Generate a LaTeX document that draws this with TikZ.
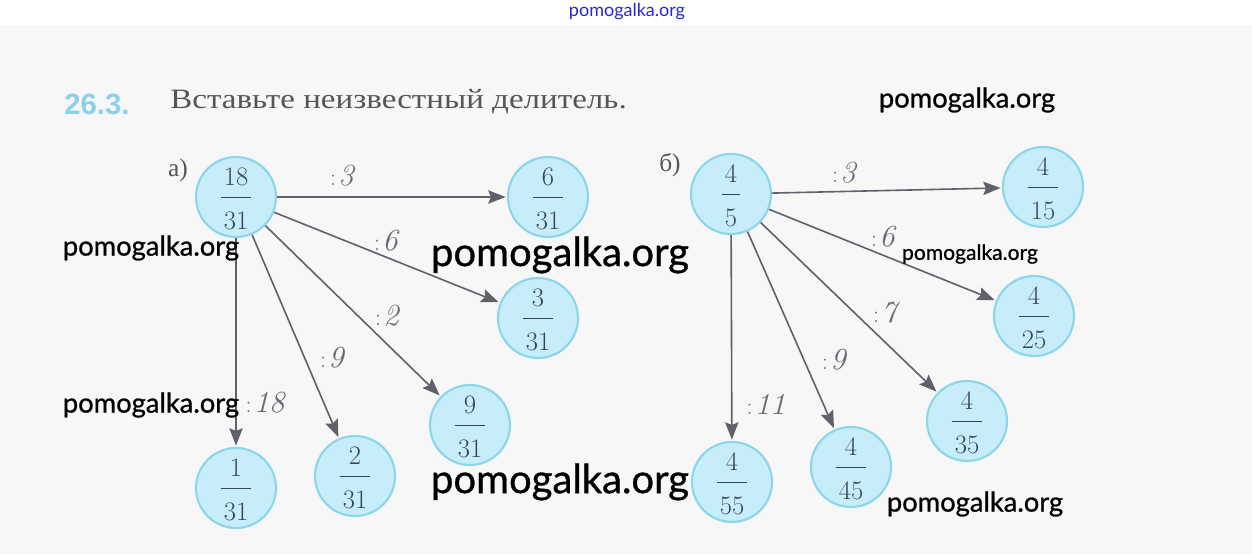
\documentclass[tikz,border=0pt]{standalone}
\usepackage{fontspec}
\usetikzlibrary{arrows.meta}
\newfontfamily\serf{Liberation Serif}
\newfontfamily\wmfont[FakeBold=0.8]{Lato}
\newfontfamily\wmthin{Lato}
\newfontfamily\numfont{Liberation Sans}
\definecolor{bggray}{RGB}{247,247,247}
\definecolor{circfill}{RGB}{198,237,249}
\definecolor{circdraw}{RGB}{140,214,236}
\definecolor{fractext}{RGB}{56,70,82}
\definecolor{arrowgray}{RGB}{96,96,106}
\definecolor{titleblue}{RGB}{140,208,234}
\definecolor{titlegray}{RGB}{85,85,90}
\definecolor{handgray}{RGB}{105,105,115}
\definecolor{wmblue}{RGB}{40,40,210}
\newcommand\myfrac[2]{{\setlength\arrayrulewidth{0.7pt}\renewcommand\arraystretch{1.0}\begin{tabular}[t]{@{\hspace{2.3pt}}c@{\hspace{2.3pt}}}#1\\[1.3pt]\hline\rule{0pt}{24pt}#2\end{tabular}}}
\newcommand\dv[1]{{\upshape\fontsize{18}{20}\selectfont:}\,{\itshape\fontsize{23}{24}\selectfont #1}}
\begin{document}
\begin{tikzpicture}[x=0.75pt,y=-0.75pt,
  frac/.style={circle,fill=circfill,draw=circdraw,line width=1.6pt,minimum size=60pt,inner sep=0pt,text=fractext,font=\fontsize{20}{23}\selectfont,text height=0pt,text depth=17.1pt},
  arr/.style={draw=arrowgray,line width=1.2pt,-{Stealth[length=13pt,width=10pt,inset=2pt]},shorten >=1pt},
  divlab/.style={text=handgray,inner sep=0pt},
  part/.style={text=titlegray,font=\serf\fontsize{19}{22}\selectfont,inner sep=0pt},
  wm/.style={text=black,font=\wmfont\fontsize{#1}{#1}\selectfont,inner sep=0pt}
]
\fill[white] (0,0) rectangle (1252,554);
\fill[bggray] (0,25) rectangle (1252,554);
\useasboundingbox (0,0) rectangle (1252,554);

% title
\node[anchor=west,text=titleblue,font=\numfont\bfseries\fontsize{22}{24}\selectfont,inner sep=0pt] (num) at (64,104) {26.3.};
\node[anchor=west,text=titlegray,font=\serf\fontsize{21}{24}\selectfont,inner sep=0pt,xscale=1.18] (title) at (170,102) {Вставьте неизвестный делитель.};

% part a
\node[part] (la) at (178,170) {а)};
\node[frac] (a0) at (236,197) {\myfrac{18}{31}};
\node[frac] (a1) at (548,197) {\myfrac{6}{31}};
\node[frac] (a2) at (538,318) {\myfrac{3}{31}};
\node[frac] (a3) at (470,425) {\myfrac{9}{31}};
\node[frac] (a4) at (355,476) {\myfrac{2}{31}};
\node[frac] (a5) at (236,488) {\myfrac{1}{31}};
\draw[arr] (a0) -- (a1);
\draw[arr] (a0) -- (a2);
\draw[arr] (a0) -- (a3);
\draw[arr] (a0) -- (a4);
\draw[arr] (a0) -- (a5);
\node[divlab] (da1) at (342,176) {\dv{3}};
\node[divlab] (da2) at (386,241) {\dv{6}};
\node[divlab] (da3) at (387,316) {\dv{2}};
\node[divlab] (da4) at (332,358) {\dv{9}};
\node[divlab] (da5) at (265,403) {\dv{18}};

% part b
\node[part] (lb) at (670,165) {б)};
\node[frac] (b0) at (731,194) {\myfrac{4}{5}};
\node[frac] (b1) at (1043,187) {\myfrac{4}{15}};
\node[frac] (b2) at (1034,316) {\myfrac{4}{25}};
\node[frac] (b3) at (967,421) {\myfrac{4}{35}};
\node[frac] (b4) at (851,467) {\myfrac{4}{45}};
\node[frac] (b5) at (732,482) {\myfrac{4}{55}};
\draw[arr] (b0) -- (b1);
\draw[arr] (b0) -- (b2);
\draw[arr] (b0) -- (b3);
\draw[arr] (b0) -- (b4);
\draw[arr] (b0) -- (b5);
\node[divlab] (db1) at (844,173) {\dv{3}};
\node[divlab] (db2) at (883,237) {\dv{6}};
\node[divlab] (db3) at (885,313) {\dv{7}};
\node[divlab] (db4) at (834,360) {\dv{9}};
\node[divlab] (db5) at (766,404) {\dv{11}};

% watermarks
\node[text=wmblue,font=\wmthin\fontsize{13.5}{14}\selectfont,inner sep=0pt] (wm0) at (627,12) {pomogalka.org};
\node[wm=20.5] (wm1) at (967,100) {pomogalka.org};
\node[wm=20.5] (wm2) at (151,248) {pomogalka.org};
\node[wm=30] (wm3) at (560,255) {pomogalka.org};
\node[wm=15.8] (wm4) at (970,254) {pomogalka.org};
\node[wm=20.5] (wm5) at (151,405) {pomogalka.org};
\node[wm=30] (wm6) at (560,482) {pomogalka.org};
\node[wm=20.5] (wm7) at (975,504) {pomogalka.org};
\end{tikzpicture}
\end{document}
